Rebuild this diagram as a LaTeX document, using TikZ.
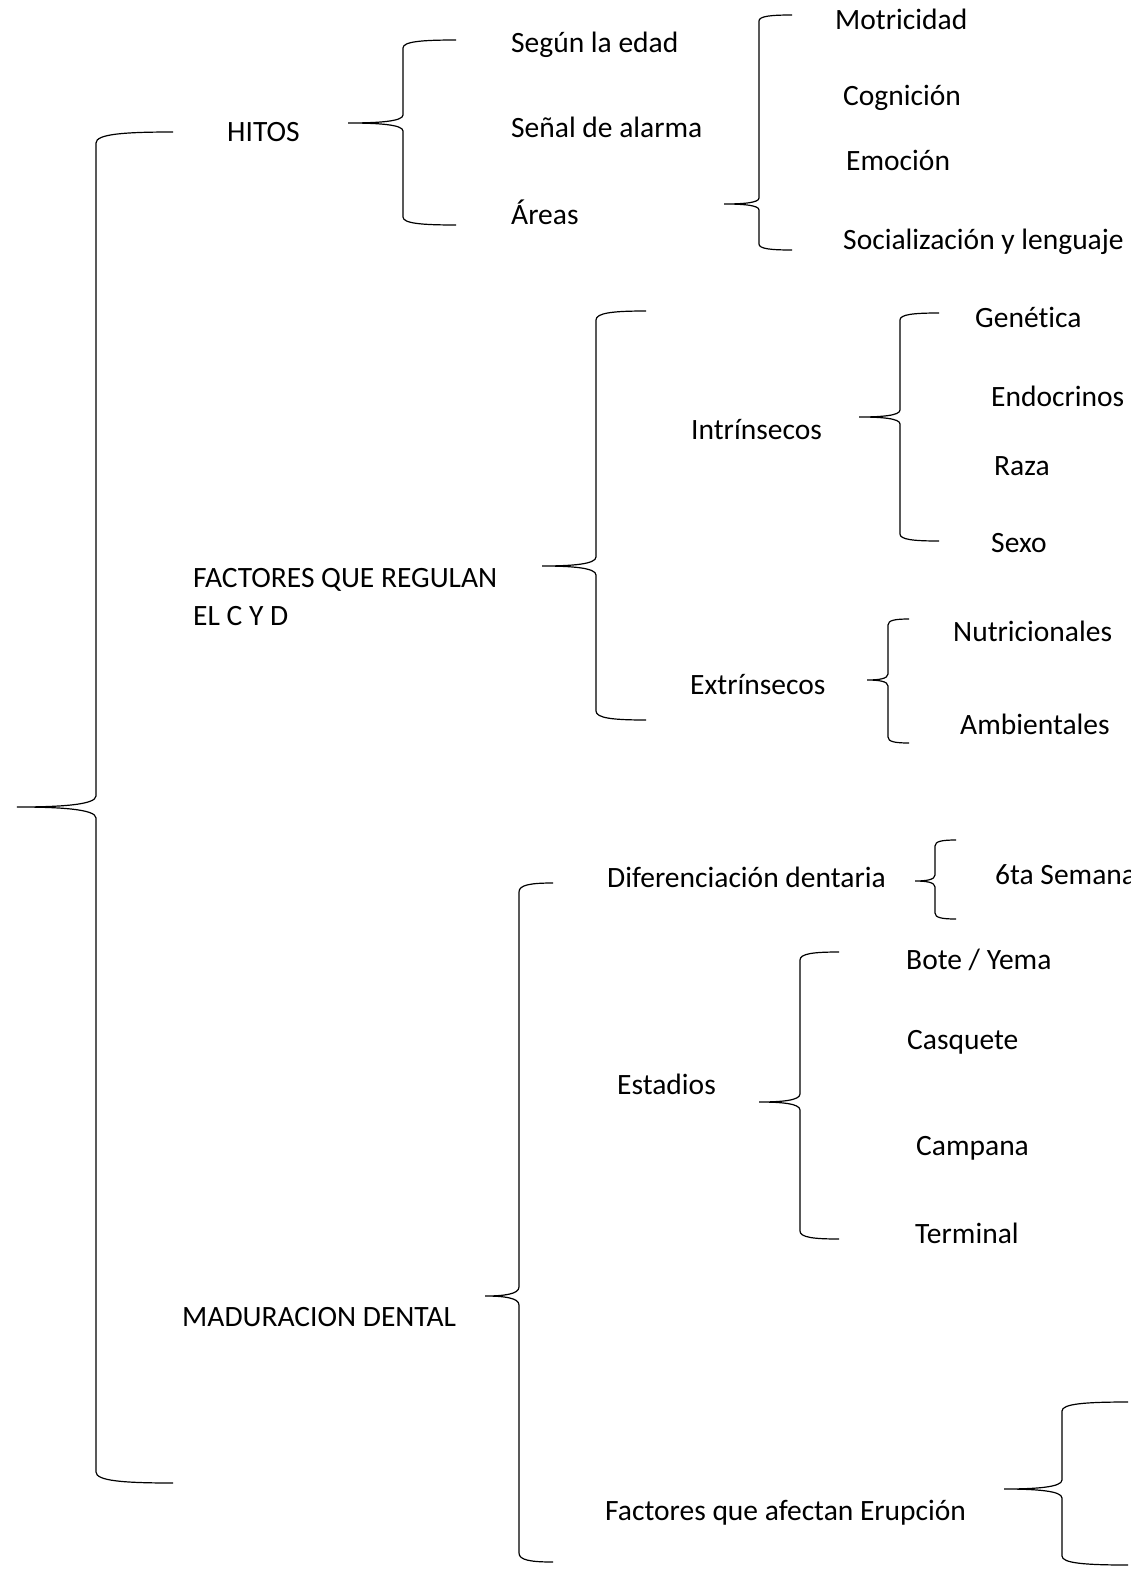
\documentclass[tikz,border=0pt]{standalone}
\usepackage{fontspec}
\setmainfont{Carlito}[Ligatures=NoCommon]
\begin{document}
\begin{tikzpicture}[x=1pt,y=-1pt,
  lbl/.style={anchor=base west,inner sep=0pt,font=\fontsize{29.5}{37.5}\selectfont},
  twoline/.style={lbl,align=left},
  braceline/.style={line width=1.2pt,black}]
\useasboundingbox (0,0) rectangle (1130,1584);
% #1 radius, #2 xend, #3 xvert, #4 xtip, #5 ytop, #6 ymid, #7 ybot
\newcommand{\mybrace}[7][9]{%
 \draw[braceline] (#2,#5) .. controls ({#3+0.35*(#2-#3)},#5) and (#3,{#5+0.2*#1}) .. (#3,{#5+#1})
   -- (#3,{#6-#1}) .. controls (#3,{#6-0.2*#1}) and ({#3-0.45*(#3-#4)},#6) .. (#4,#6)
   .. controls ({#3-0.45*(#3-#4)},#6) and (#3,{#6+0.2*#1}) .. (#3,{#6+#1})
   -- (#3,{#7-#1}) .. controls (#3,{#7-0.2*#1}) and ({#3+0.35*(#2-#3)},#7) .. (#2,#7);}
% texts
\node[lbl] (hitos) at (227,142) {HITOS};
\node[lbl] (edad) at (511,53) {Según la edad};
\node[lbl] (alarma) at (511,137) {Señal de alarma};
\node[lbl] (areas) at (511,224) {Áreas};
\node[lbl] (motr) at (835,30) {Motricidad};
\node[lbl] (cogn) at (843,106) {Cognición};
\node[lbl] (emoc) at (846,170) {Emoción};
\node[lbl] (soci) at (843,249) {Socialización y lenguaje};
\node[twoline] (fact) at (193,625) {FACTORES QUE REGULAN\\EL C Y D};
\node[lbl] (intr) at (691,439) {Intrínsecos};
\node[lbl] (extr) at (690,694) {Extrínsecos};
\node[lbl] (gene) at (975,327) {Genética};
\node[lbl] (endo) at (991,406) {Endocrinos};
\node[lbl] (raza) at (994,475) {Raza};
\node[lbl] (sexo) at (991,552) {Sexo};
\node[lbl] (nutr) at (953,641) {Nutricionales};
\node[lbl] (ambi) at (960,734) {Ambientales};
\node[lbl] (madu) at (182,1326) {MADURACION DENTAL};
\node[lbl] (dife) at (607,887) {Diferenciación dentaria};
\node[lbl] (sexta) at (995,884) {6ta Semana};
\node[lbl] (esta) at (617,1094) {Estadios};
\node[lbl] (bote) at (906,969) {Bote / Yema};
\node[lbl] (casq) at (907,1049) {Casquete};
\node[lbl] (camp) at (916,1155) {Campana};
\node[lbl] (term) at (915,1243) {Terminal};
\node[lbl] (erup) at (605,1520) {Factores que afectan Erupción};
% braces
\mybrace[11]{173}{96}{17}{132}{807}{1483}
\mybrace[8]{456}{403}{348}{40}{123}{225}
\mybrace[6]{792}{759}{724}{15}{204}{250}
\mybrace[9]{646}{596}{542}{311}{566}{720}
\mybrace[7]{939}{900}{859}{313}{417}{541}
\mybrace[6]{909}{888}{867}{619}{680}{743}
\mybrace[9]{553}{519}{485}{883}{1296}{1562}
\mybrace[6]{956}{935}{915}{840}{881}{919}
\mybrace[8]{839}{800}{759}{952}{1102}{1239}
\mybrace[9]{1128}{1062}{1004}{1402}{1489}{1565}
\end{tikzpicture}
\end{document}
